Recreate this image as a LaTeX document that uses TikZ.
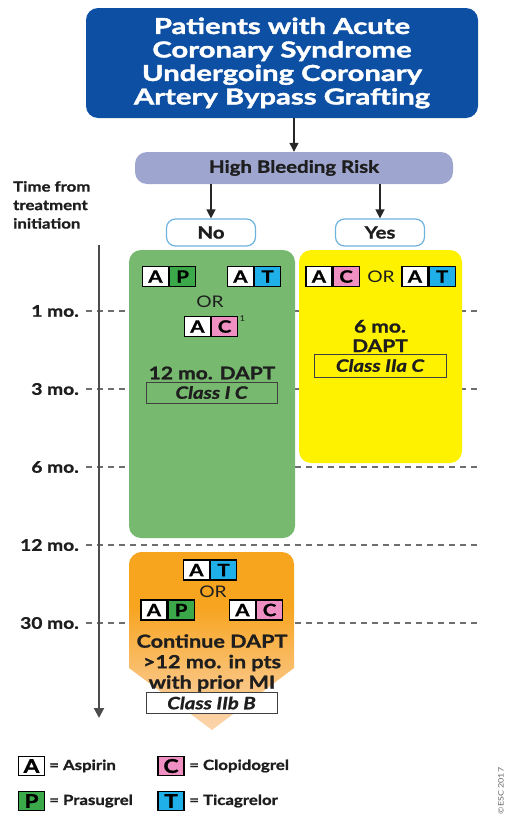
\documentclass[tikz,border=0pt]{standalone}
\usepackage{fontspec}
\setmainfont{Lato}[FakeStretch=1.2, BoldFeatures={FakeBold=1.2}, BoldItalicFeatures={FakeBold=1.2}]
\newfontfamily\titlefont{Lato}[FakeStretch=1.33, BoldFeatures={FakeBold=1.8}]
\usetikzlibrary{arrows.meta}
\definecolor{titleblue}{RGB}{13,79,163}
\definecolor{hbrcol}{RGB}{158,166,207}
\definecolor{nobord}{RGB}{110,178,222}
\definecolor{greenbox}{RGB}{118,185,111}
\definecolor{yellowbox}{RGB}{255,242,0}
\definecolor{orng}{RGB}{247,164,30}
\definecolor{orlight}{RGB}{251,207,160}
\definecolor{orpale}{RGB}{254,240,228}
\definecolor{pgreen}{RGB}{59,168,74}
\definecolor{tcyan}{RGB}{31,176,234}
\definecolor{cpink}{RGB}{239,143,194}
\definecolor{dashgray}{RGB}{110,110,110}
\definecolor{txt}{RGB}{30,30,30}
\pgfdeclareverticalshading{orfade}{100bp}{color(0bp)=(orpale); color(30bp)=(orlight); color(60bp)=(orng); color(100bp)=(orng)}
\newcommand\drugpair[5]{%
  \node[drugsq, anchor=east] (#1a) at (#2,#3) {A};
  \node[drugsq, anchor=west, fill=#5] (#1b) at (#2,#3) {#4};
}
\begin{document}
\begin{tikzpicture}[x=1pt,y=-1pt,
  arr/.style={-{Triangle[length=9pt,width=9pt]}, line width=1.4pt, black!85},
  dashline/.style={dashed, dash pattern=on 6pt off 5pt, line width=1.5pt, dashgray},
  timelab/.style={font=\fontsize{16}{16}\selectfont\bfseries, text=txt, inner sep=0pt},
  drugsq/.style={draw=black, line width=1.2pt, fill=white, minimum width=26pt, minimum height=20pt, inner sep=0pt, font=\fontsize{17}{17}\selectfont\bfseries},
  legsq/.style={draw=black, line width=1.2pt, minimum width=26pt, minimum height=19pt, inner sep=0pt, font=\fontsize{19}{19}\selectfont\bfseries},
  legtxt/.style={anchor=west, font=\fontsize{14}{14}\selectfont\bfseries, text=txt, inner sep=0pt},
  bigbox/.style={rounded corners=12pt, inner sep=0pt},
  answer/.style={draw=nobord, line width=1.2pt, fill=white, rounded corners=9pt, minimum width=89pt, minimum height=27pt, inner sep=0pt, font=\fontsize{17}{17}\selectfont\bfseries, text=txt},
  orword/.style={font=\fontsize{16}{16}\selectfont, text=txt, inner sep=0pt},
  boldtxt/.style={font=\fontsize{17.5}{19.5}\selectfont\bfseries, text=txt, align=center, inner sep=0pt},
  classbox/.style={draw=black!75, line width=1pt, inner sep=0pt, minimum width=131pt, minimum height=21pt, font=\fontsize{17}{17}\selectfont\bfseries\itshape, text=txt}
]
\useasboundingbox (0,0) rectangle (506,822);

% time scale dashed lines
\foreach \yy/\nm/\lab in {311/d1/1 mo., 389/d3/3 mo., 467/d6/6 mo., 545/d12/12 mo., 623/d30/30 mo.} {
  \node[timelab, anchor=east] (t\nm) at (79,\yy) {\lab};
  \coordinate (s\nm) at (86,\yy);
  \coordinate (e\nm) at (481,\yy);
  \draw[dashline] (s\nm) -- (e\nm);
}

% time axis
\coordinate (axtop) at (99,245);
\coordinate (axbot) at (99,718);
\draw[-{Triangle[length=10pt,width=10pt]}, line width=2pt, black!70] (axtop) -- (axbot);
\node[anchor=north west, align=left, inner sep=0pt, font=\fontsize{14}{18.5}\selectfont\bfseries, text=txt] (timehead) at (13,181) {Time from\\treatment\\initiation};

% title
\node[bigbox, fill=titleblue, minimum width=392pt, minimum height=110pt, text=white, align=center, font=\titlefont\fontsize{22}{23.5}\selectfont\bfseries] (title) at (282,63) {Patients with Acute\\Coronary Syndrome\\Undergoing Coronary\\Artery Bypass Grafting};

% high bleeding risk
\node[rounded corners=12pt, fill=hbrcol, minimum width=318pt, minimum height=32pt, inner sep=0pt, font=\fontsize{17}{17}\selectfont\bfseries, text=txt] (hbr) at (294,168) {High Bleeding Risk};
\draw[arr] (title.south -| hbr) -- (hbr.north);

% no / yes
\node[answer] (no) at (211,232.5) {No};
\node[answer] (yes) at (380,232.5) {Yes};
\draw[arr] (hbr.south -| no) -- (no.north);
\draw[arr] (hbr.south -| yes) -- (yes.north);

% green box
\node[bigbox, fill=greenbox, minimum width=166pt, minimum height=288pt] (green) at (212,394) {};
\drugpair{gap}{169}{276.5}{P}{pgreen}
\drugpair{gat}{254}{276.5}{T}{tcyan}
\node[orword] (gor) at (210,302) {OR};
\drugpair{gac}{211}{326.5}{C}{cpink}
\node[font=\fontsize{8}{8}\selectfont, inner sep=0pt, text=txt] (gsup) at (242.5,319) {1};
\node[boldtxt] (gdapt) at (212,373) {12 mo. DAPT};
\node[classbox] (gclass) at (211.5,392.5) {Class I C};

% yellow box
\node[bigbox, fill=yellowbox, minimum width=163pt, minimum height=213pt] (yellow) at (380.5,356.5) {};
\drugpair{yac}{332.5}{276.5}{C}{cpink}
\node[orword] (yor) at (381,276.5) {OR};
\drugpair{yat}{428.5}{276.5}{T}{tcyan}
\node[boldtxt] (ydapt) at (380,336) {6 mo.\\DAPT};
\node[classbox, minimum width=132pt, minimum height=23pt] (yclass) at (380,365.5) {Class IIa C};

% orange arrow
\shade[shading=orfade] (129,668) -- (129,564) .. controls (129,557.4) and (135.6,552) .. (141,552) -- (282,552) .. controls (288.6,552) and (294,557.4) .. (294,564) -- (294,668) -- (212,730) -- cycle;
\drugpair{oat}{210}{570}{T}{tcyan}
\node[orword] (oor) at (213,592) {OR};
\drugpair{oap}{167.5}{610}{P}{pgreen}
\drugpair{oac}{256}{610}{C}{cpink}
\node[boldtxt, font=\fontsize{18}{20.5}\selectfont\bfseries] (ocont) at (212,663) {Continue DAPT\\>12 mo. in pts\\with prior MI};
\node[classbox, fill=white] (oclass) at (211.5,703) {Class IIb B};

% legend
\node[legsq, fill=white] (lA) at (31.5,766) {A};
\node[legtxt] (lAt) at (49,766) {= Aspirin};
\node[legsq, fill=cpink] (lC) at (171,766) {C};
\node[legtxt] (lCt) at (189,766) {= Clopidogrel};
\node[legsq, fill=pgreen] (lP) at (31.5,801) {P};
\node[legtxt] (lPt) at (49,801) {= Prasugrel};
\node[legsq, fill=tcyan] (lT) at (171,801) {T};
\node[legtxt] (lTt) at (189,801) {= Ticagrelor};

\node[rotate=90, font=\fontsize{7.5}{7.5}\selectfont, text=black!60, inner sep=0pt] (copy) at (501,791) {©ESC 2017};
\end{tikzpicture}
\end{document}
